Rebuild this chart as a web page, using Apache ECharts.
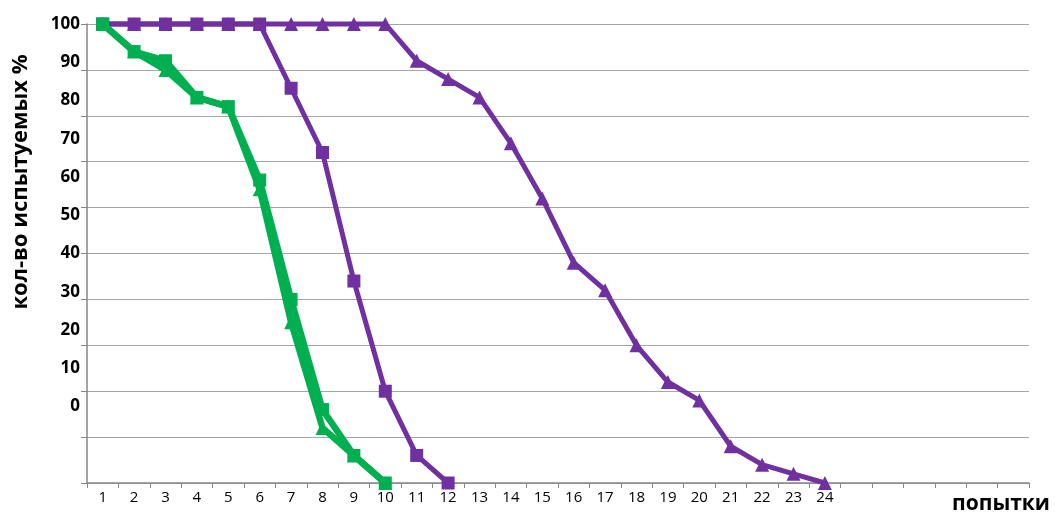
<!DOCTYPE html>
<html>
<head>
<meta charset="utf-8">
<script src="https://cdn.jsdelivr.net/npm/echarts@6/dist/echarts.min.js"></script>
<style>
html,body{margin:0;padding:0;background:#fff;}
#chart{width:1057px;height:518px;}
</style>
</head>
<body>
<div id="chart"></div>
<script>
// x categories: 30 slots, labelled 1..24
const categories = ['1','2','3','4','5','6','7','8','9','10','11','12','13','14','15','16','17','18','19','20','21','22','23','24','','','','','',''];
// y tick labels (drawn on offset label axis as in the original)
const yTickLabels = [0,10,20,30,40,50,60,70,80,90,100];

const greenSquare   = [100,94,92,84,82,66,40,16,6,0];
const greenTriangle = [100,94,90,84,82,64,35,12,6,0];
const purpleSquare  = [100,100,100,100,100,100,86,72,44,20,6,0];
const purpleTriangle= [100,100,100,100,100,100,100,100,100,100,92,88,84,74,62,48,42,30,22,18,8,4,2,0];

const GREEN = '#00b050';
const PURPLE = '#7030a0';
const FONT = '"Open Sans", "Liberation Sans", sans-serif';

const chart = echarts.init(document.getElementById('chart'), null, {renderer:'canvas'});

function mkSeries(data, color, symbol, width, size, z){
  return {
    type:'line', data:data, symbol:symbol, symbolSize:size, showSymbol:true,
    lineStyle:{color:color, width:width}, itemStyle:{color:color},
    emphasis:{disabled:true}, animation:false, z:z, clip:false
  };
}

chart.setOption({
  animation:false,
  grid:{left:87, right:28, top:24, bottom:35, containLabel:false},
  xAxis:{
    type:'category', data:categories, boundaryGap:true,
    axisLine:{lineStyle:{color:'#868686', width:1.5}},
    axisTick:{show:true, length:5, lineStyle:{color:'#868686'}},
    axisLabel:{color:'#000', fontSize:15, fontFamily:FONT, margin:7, interval:0},
    splitLine:{show:false}
  },
  yAxis:[{
    type:'value', min:0, max:100, interval:10,
    axisLine:{show:true, lineStyle:{color:'#868686', width:1.5}},
    axisTick:{show:true, inside:false, length:6, lineStyle:{color:'#868686'}},
    axisLabel:{show:false},
    splitLine:{show:true, lineStyle:{color:'#a6a6a6', width:1}}
  },{
    type:'value', min:-20, max:100, interval:10, position:'left',
    axisLine:{show:false}, axisTick:{show:false}, splitLine:{show:false},
    axisLabel:{
      show:true, margin:7, color:'#000', fontSize:17, fontWeight:'bold', fontFamily:FONT,
      formatter:function(v){ return yTickLabels.indexOf(v) >= 0 ? String(v) : ''; }
    }
  }],
  series:[
    mkSeries(purpleTriangle, PURPLE, 'triangle', 5, 14, 3),
    mkSeries(purpleSquare, PURPLE, 'rect', 5, 13, 4),
    mkSeries(greenTriangle, GREEN, 'triangle', 6.5, 14, 5),
    mkSeries(greenSquare, GREEN, 'rect', 6.5, 13, 6)
  ],
  graphic:[
    {type:'text', left:952, top:494, style:{text:'попытки', fill:'#000', font:'bold 21px '+FONT}},
    {type:'text', x:21, y:182, rotation:Math.PI/2, style:{text:'кол-во испытуемых %', fill:'#000', font:'bold 22px '+FONT, align:'center', verticalAlign:'middle'}}
  ]
});
</script>
</body>
</html>
